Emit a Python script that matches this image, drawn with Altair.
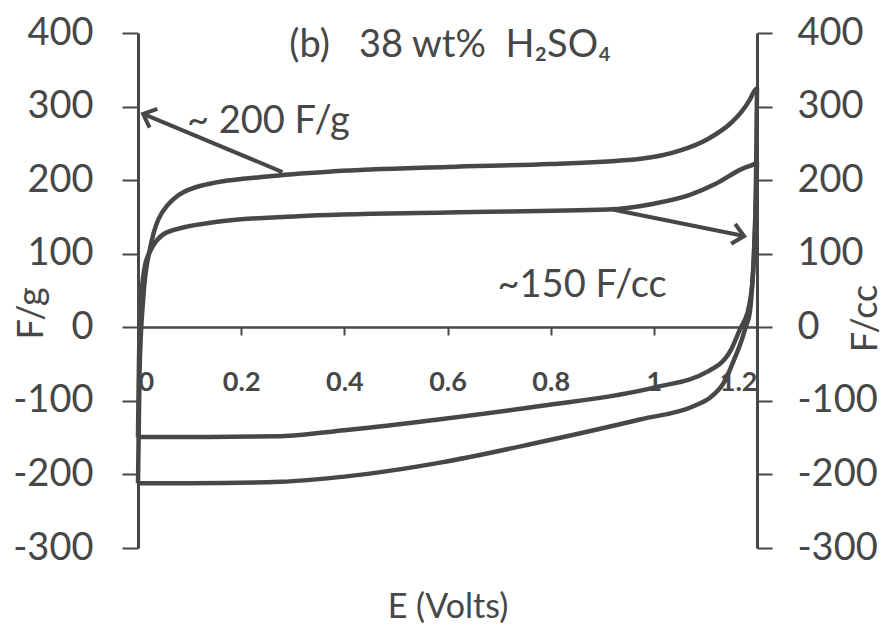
import math
import altair as alt
import pandas as pd

# Cyclic voltammogram, 38 wt% H2SO4: gravimetric (F/g) and volumetric (F/cc) loops
# Potential (V) and capacitance values along each sweep
fg_anodic_E = [0.0, 0.003, 0.01, 0.023, 0.056, 0.12, 0.25, 0.38, 0.6, 0.8, 0.975, 1.05, 1.105, 1.15, 1.169, 1.185, 1.194, 1.2]
fg_anodic_C = [-212, -60, 38, 106, 165, 192, 205, 212, 218, 222, 229, 240, 256, 278, 292, 308, 320, 325]
fg_cathodic_E = [1.2, 1.198, 1.194, 1.19, 1.186, 1.178, 1.169, 1.155, 1.136, 1.11, 1.078, 0.975, 0.78, 0.586, 0.4, 0.276, 0.1, 0.0]
fg_cathodic_C = [325, 200, 100, 50, 20, 0, -20, -45, -75, -95, -107, -125, -156, -184, -203, -210, -212, -212]

fcc_anodic_E = [0.0, 0.004, 0.017, 0.056, 0.15, 0.31, 0.6, 0.91, 1.0, 1.07, 1.12, 1.17, 1.195, 1.2]
fcc_anodic_C = [-149, 20, 93, 129, 143, 151, 156, 160, 168, 180, 195, 215, 222, 224]
fcc_cathodic_E = [1.2, 1.197, 1.193, 1.185, 1.175, 1.169, 1.15, 1.105, 1.0, 0.78, 0.586, 0.4, 0.276, 0.1, 0.0]
fcc_cathodic_C = [224, 150, 80, 30, 8, 0, -30, -60, -82, -107, -125, -140, -148, -149, -149]

# Annotation arrows (tail -> head) and their labels
arrow_E = [0.28, 0.92]
arrow_C = [211, 160]
arrow_E2 = [0.01, 1.175]
arrow_C2 = [290, 124]
note_text = ["~ 200 F/g", "~150 F/cc"]
note_E = [0.095, 0.697]
note_C = [279, 56]

NB = "\u00a0"
title_text = ["(b)" + NB * 3 + "38" + NB + "wt%" + NB * 2 + "H\u2082SO\u2084"]
title_E = [0.605]
title_C = [382]

x_ticks = [0, 0.2, 0.4, 0.6, 0.8, 1, 1.2]
y_ticks = [-300, -200, -100, 0, 100, 200, 300, 400]

W, H = 619, 515
E_DOM = [0, 1.2]
C_DOM = [-300, 400]
INK = "#474747"
FONT = "Lato"
Y_LABELS = "datum.value < 0 ? '-' + abs(datum.value) : '' + datum.value"


def loop(aE, aC, cE, cC, name):
    rows = []
    for i, (e, c) in enumerate(zip(aE, aC)):
        rows.append({"loop": name, "sweep": "anodic", "i": i, "E": e, "C": c})
    for i, (e, c) in enumerate(zip(cE, cC)):
        rows.append({"loop": name, "sweep": "cathodic", "i": i, "E": e, "C": c})
    return rows


fg = pd.DataFrame(loop(fg_anodic_E, fg_anodic_C, fg_cathodic_E, fg_cathodic_C, "F/g"))
fcc = pd.DataFrame(loop(fcc_anodic_E, fcc_anodic_C, fcc_cathodic_E, fcc_cathodic_C, "F/cc"))

# arrowhead rotation from the direction on screen
px_E = W / (E_DOM[1] - E_DOM[0])
px_C = H / (C_DOM[1] - C_DOM[0])
angles = []
for e0, c0, e1, c1 in zip(arrow_E, arrow_C, arrow_E2, arrow_C2):
    dx = (e1 - e0) * px_E
    dy = -(c1 - c0) * px_C
    angles.append(math.degrees(math.atan2(dx, -dy)) % 360)

arrows = pd.DataFrame({"E": arrow_E, "C": arrow_C, "E2": arrow_E2, "C2": arrow_C2, "ang": angles})
notes = pd.DataFrame({"t": note_text, "E": note_E, "C": note_C})
titles = pd.DataFrame({"t": title_text, "E": title_E, "C": title_C})

xs = alt.Scale(domain=E_DOM, nice=False, zero=False)
ys = alt.Scale(domain=C_DOM, nice=False, zero=False)

x_axis = alt.Axis(
    values=x_ticks, format="~g", offset=-221, grid=False,
    domainColor=INK, domainWidth=2.5, tickColor=INK, tickWidth=2, tickSize=8,
    labelFont=FONT, labelFontSize=27, labelFontWeight="bold", labelColor=INK,
    labelPadding=34, labelBaseline="top",
    title="E (Volts)", titleFont=FONT, titleFontSize=34, titleFontWeight="normal",
    titleColor=INK, titleY=290, titleBaseline="alphabetic",
)
left_axis = alt.Axis(
    values=y_ticks, grid=False, orient="left", labelExpr=Y_LABELS,
    domainColor=INK, domainWidth=3, tickColor=INK, tickWidth=2, tickSize=16,
    labelFont=FONT, labelFontSize=38, labelColor=INK, labelPadding=29,
    title="F/g", titleFont=FONT, titleFontSize=36, titleFontWeight="normal",
    titleColor=INK, titleAngle=270, titleX=-107, titleY=280,
    titleAlign="center", titleBaseline="middle",
)
right_axis = alt.Axis(
    values=y_ticks, grid=False, orient="right", labelExpr=Y_LABELS,
    domainColor=INK, domainWidth=3, tickColor=INK, tickWidth=2, tickSize=15,
    labelFont=FONT, labelFontSize=38, labelColor=INK, labelPadding=25,
    title="F/cc", titleFont=FONT, titleFontSize=36, titleFontWeight="normal",
    titleColor=INK, titleAngle=270, titleX=108, titleY=285,
    titleAlign="center", titleBaseline="middle",
)

fg_line = alt.Chart(fg).mark_line(
    color=INK, strokeWidth=4.5, strokeJoin="round", interpolate="monotone"
).encode(
    x=alt.X("E:Q", scale=xs, axis=x_axis),
    y=alt.Y("C:Q", scale=ys, axis=left_axis),
    detail="sweep:N",
    order="i:Q",
)

shafts = alt.Chart(arrows).mark_rule(color=INK, strokeWidth=4).encode(
    x=alt.X("E:Q", scale=xs, axis=x_axis),
    y=alt.Y("C:Q", scale=ys, axis=left_axis),
    x2="E2:Q",
    y2="C2:Q",
)
heads = alt.Chart(arrows).mark_point(
    shape="M -0.9 1 L 0 0 L 0.9 1", filled=False, color=INK, strokeWidth=4,
    size=500, opacity=1,
).encode(
    x=alt.X("E2:Q", scale=xs, axis=x_axis),
    y=alt.Y("C2:Q", scale=ys, axis=left_axis),
    angle=alt.Angle("ang:Q", scale=None),
)
note_marks = alt.Chart(notes).mark_text(
    font=FONT, fontSize=38, color=INK, align="left", baseline="middle"
).encode(
    x=alt.X("E:Q", scale=xs, axis=x_axis),
    y=alt.Y("C:Q", scale=ys, axis=left_axis),
    text="t:N",
)
title_mark = alt.Chart(titles).mark_text(
    font=FONT, fontSize=38, color=INK, align="center", baseline="middle"
).encode(
    x=alt.X("E:Q", scale=xs, axis=x_axis),
    y=alt.Y("C:Q", scale=ys, axis=left_axis),
    text="t:N",
)

left_layer = alt.layer(fg_line, shafts, heads, note_marks, title_mark)

fcc_line = alt.Chart(fcc).mark_line(
    color=INK, strokeWidth=4.5, strokeJoin="round", interpolate="monotone"
).encode(
    x=alt.X("E:Q", scale=xs, axis=x_axis),
    y=alt.Y("C:Q", scale=ys, axis=right_axis),
    detail="sweep:N",
    order="i:Q",
)

chart = (
    alt.layer(left_layer, fcc_line)
    .resolve_scale(y="independent")
    .properties(
        width=W, height=H,
        autosize=alt.AutoSizeParams(type="none"),
        padding={"left": 138, "top": 33, "right": 129, "bottom": 85},
        background="white",
    )
    .configure_view(stroke=None)
)

chart.save("out.html", embed_options={"renderer": "svg", "actions": False})
